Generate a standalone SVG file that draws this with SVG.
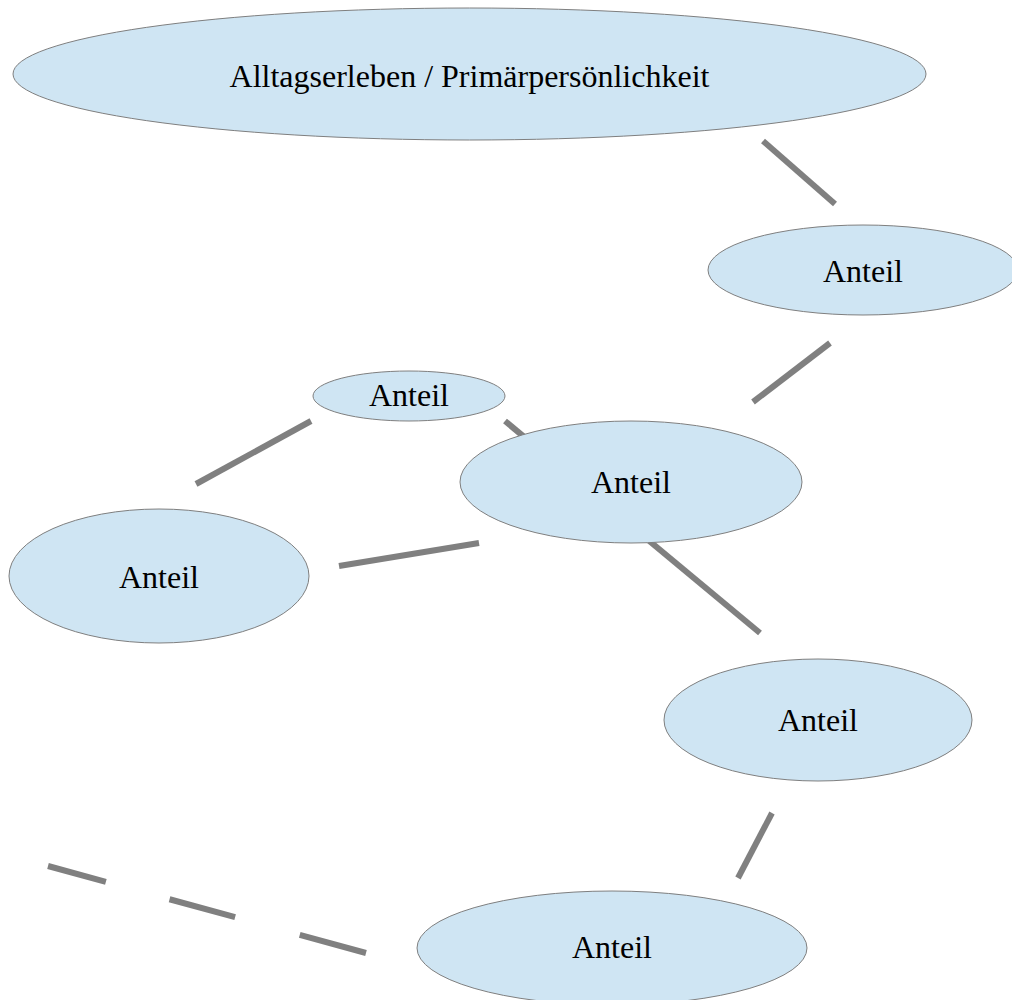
<svg xmlns="http://www.w3.org/2000/svg" width="1012" height="1000" viewBox="0 0 1012 1000">
<style>
.node ellipse{fill:#cfe5f3;stroke:#7f7f7f;stroke-width:1}
.node text{font-family:"Liberation Serif","DejaVu Serif",serif;font-size:32px;fill:#000;text-anchor:middle}
.edge{stroke:#808080;stroke-width:6;fill:none}
</style>
<rect width="1012" height="1000" fill="#fff"/>
<g id="connectors">
<line class="edge" x1="763" y1="141" x2="835" y2="204"/>
<line class="edge" x1="830" y1="343" x2="753" y2="402"/>
<line class="edge" x1="311" y1="421" x2="196" y2="484"/>
<line class="edge" x1="505" y1="421" x2="760" y2="633"/>
<line class="edge" x1="339" y1="566" x2="479" y2="543"/>
<line class="edge" x1="772" y1="813" x2="738" y2="878"/>
<line class="edge" x1="48" y1="866" x2="366" y2="953" stroke-dasharray="60 66 68 67 69 100"/>
</g>
<g id="n-primary" class="node"><ellipse cx="469.5" cy="74" rx="456.5" ry="66"/><text x="469.5" y="87">Alltagserleben / Primärpersönlichkeit</text></g>
<g id="n-right" class="node"><ellipse cx="863" cy="270" rx="155" ry="45"/><text x="863" y="282">Anteil</text></g>
<g id="n-small" class="node"><ellipse cx="409" cy="396" rx="96" ry="25"/><text x="409" y="406">Anteil</text></g>
<g id="n-center" class="node"><ellipse cx="631" cy="482" rx="171" ry="61"/><text x="631" y="493">Anteil</text></g>
<g id="n-left" class="node"><ellipse cx="159" cy="576" rx="150" ry="67"/><text x="159" y="588">Anteil</text></g>
<g id="n-lowright" class="node"><ellipse cx="818" cy="720" rx="154" ry="61"/><text x="818" y="731">Anteil</text></g>
<g id="n-bottom" class="node"><ellipse cx="612" cy="948" rx="195" ry="57"/><text x="612" y="958">Anteil</text></g>
</svg>
